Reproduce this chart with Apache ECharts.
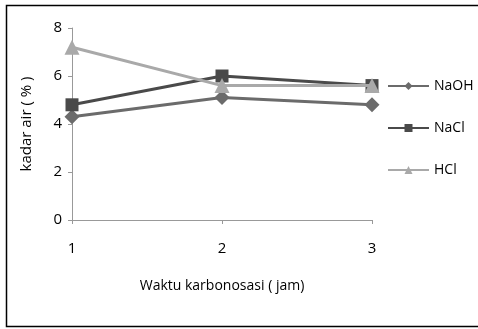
<!DOCTYPE html>
<html>
<head>
<meta charset="utf-8">
<script src="https://cdn.jsdelivr.net/npm/echarts@6/dist/echarts.min.js"></script>
<style>
  html, body { margin: 0; padding: 0; background: #fff; }
  #chart { width: 478px; height: 329px; }
</style>
</head>
<body>
<div id="chart"></div>
<script>
// data
var waktu = [1, 2, 3];
var naoh = [4.3, 5.1, 4.8];
var nacl = [4.8, 6.0, 5.6];
var hcl = [7.2, 5.6, 5.6];

var font = 'Open Sans';

function pairs(ys) {
	var out = [];
	for (var i = 0; i < waktu.length; i++) {
		out.push([waktu[i], ys[i]]);
	}
	return out;
}

var myChart = echarts.init(document.getElementById('chart'));
var option = {
	animation: false,
	textStyle: { fontFamily: font, color: '#000' },
	// frame: the right edge is cut off in the original
	graphic: [{
		type: 'rect',
		shape: { x: 6.5, y: 5.5, width: 480, height: 321 },
		style: { fill: 'none', stroke: '#000', lineWidth: 1.5 }
	}],
	grid: { left: 72, right: 106, top: 28, bottom: 109 },
	legend: {
		orient: 'vertical',
		left: 382,
		top: 74,
		itemGap: 28,
		itemWidth: 41,
		itemHeight: 10,
		textStyle: { fontFamily: font, fontSize: 14, color: '#000' },
		data: ['NaOH', 'NaCl', 'HCl']
	},
	xAxis: {
		type: 'value',
		min: 1,
		max: 3,
		interval: 1,
		name: 'Waktu karbonosasi ( jam)',
		nameLocation: 'middle',
		nameGap: 59,
		nameTextStyle: { fontSize: 14, color: '#000' },
		axisLine: { lineStyle: { color: '#999' } },
		axisTick: { show: true, length: 4, lineStyle: { color: '#999' } },
		axisLabel: { fontSize: 15, color: '#000', margin: 21 },
		splitLine: { show: false }
	},
	yAxis: {
		type: 'value',
		min: 0,
		max: 8,
		interval: 2,
		name: 'kadar air ( % )',
		nameLocation: 'middle',
		nameGap: 38,
		nameTextStyle: { fontSize: 15, color: '#000' },
		axisLine: { show: true, lineStyle: { color: '#999' } },
		axisTick: { show: true, length: 4, lineStyle: { color: '#999' } },
		axisLabel: { fontSize: 15, color: '#000', margin: 10 },
		splitLine: { show: false }
	},
	series: [
		{
			name: 'NaOH',
			type: 'line',
			data: pairs(naoh),
			symbol: 'diamond',
			symbolSize: 15,
			lineStyle: { width: 3, color: '#6b6b6b' },
			itemStyle: { color: '#6b6b6b' },
			z: 3
		},
		{
			name: 'NaCl',
			type: 'line',
			data: pairs(nacl),
			symbol: 'rect',
			symbolSize: 13,
			lineStyle: { width: 3, color: '#4a4a4a' },
			itemStyle: { color: '#4a4a4a' },
			z: 4
		},
		{
			name: 'HCl',
			type: 'line',
			data: pairs(hcl),
			symbol: 'triangle',
			symbolSize: 15,
			lineStyle: { width: 3, color: '#a9a9a9' },
			itemStyle: { color: '#a9a9a9' },
			z: 5
		}
	]
};
myChart.setOption(option);
</script>
</body>
</html>
